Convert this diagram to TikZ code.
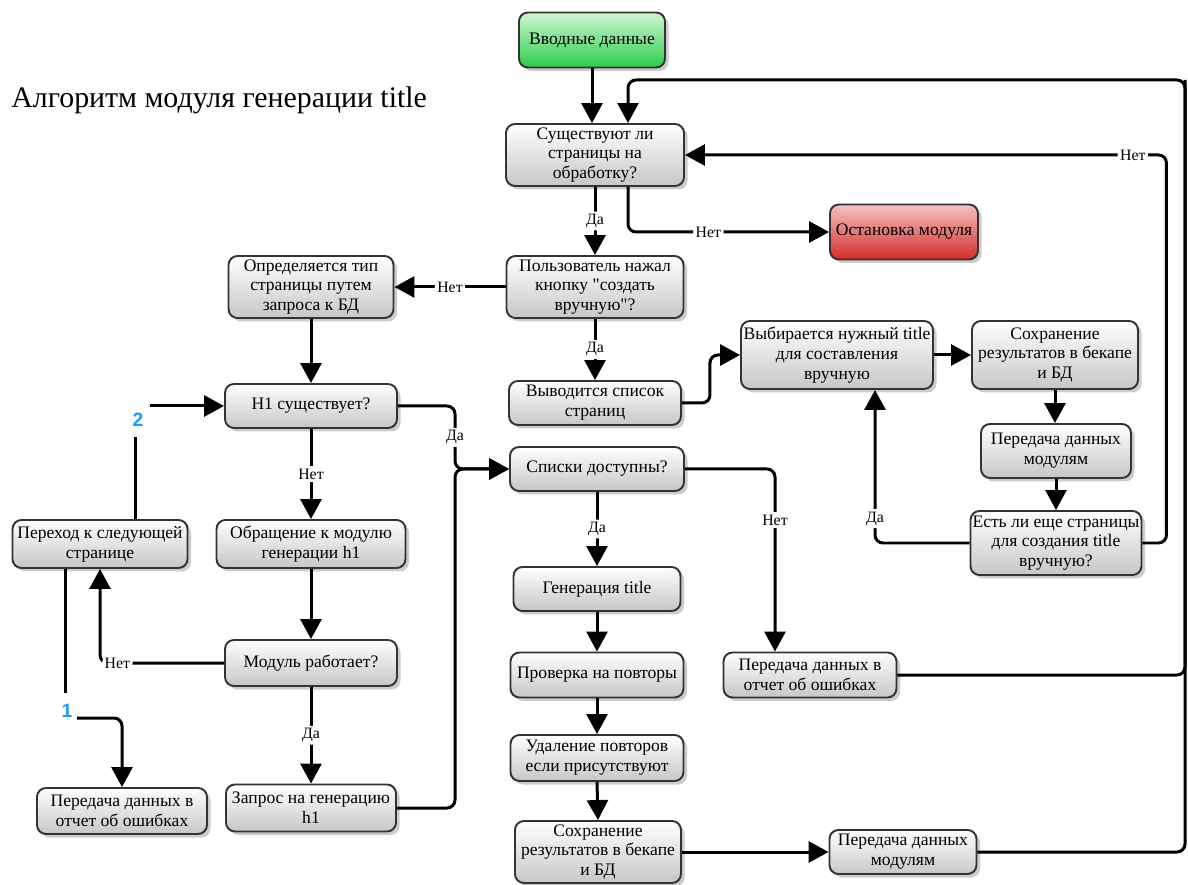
\documentclass[tikz,border=0pt]{standalone}
\usepackage{fontspec}
\setmainfont{Liberation Serif}
\newfontfamily\lblsans{Liberation Sans}
\usetikzlibrary{arrows.meta,shadows}
\definecolor{gtop}{HTML}{CFF7D2}
\definecolor{gbot}{HTML}{2DCB4E}
\definecolor{rtop}{HTML}{F4C2C2}
\definecolor{rbot}{HTML}{D42B2B}
\definecolor{numblue}{HTML}{1E9BFF}
\begin{document}
\begin{tikzpicture}[x=0.02cm,y=-0.02cm,
  sz/.style 2 args={minimum width=#1*0.02cm, minimum height=#2*0.02cm},
  nd/.style={rectangle, rounded corners=0.18cm, draw=black!80, line width=1.1pt,
    top color=white, bottom color=black!22,
    drop shadow={opacity=0.4, shadow xshift=0.07cm, shadow yshift=-0.07cm},
    align=center, inner sep=1pt, font=\fontsize{10}{11.3}\selectfont},
  gnd/.style={nd, top color=gtop, bottom color=gbot},
  rnd/.style={nd, top color=rtop, bottom color=rbot},
  ln/.style={line width=0.06cm, rounded corners=0.16cm},
  arr/.style={ln, -{Triangle[length=0.4cm,width=0.42cm]}},
  lbl/.style={fill=white, inner sep=1.5pt, font=\fontsize{9}{10}\selectfont},
  numlbl/.style={fill=white, inner sep=1pt, text=numblue, font=\lblsans\bfseries\fontsize{11}{12}\selectfont},
  ttl/.style={anchor=west, inner sep=0pt, font=\fontsize{17}{20}\selectfont}]
\fill[white] (0,0) rectangle (1188,885);
\useasboundingbox (0,0) rectangle (1188,885);

\node[ttl] (title) at (11,100) {Алгоритм модуля генерации title};

\node[gnd, sz={146}{55}] (vvod) at (592,40) {Вводные данные};
\node[nd, sz={178}{62}] (sush) at (595,155) {Существуют ли\\страницы на\\обработку?};
\node[rnd, sz={148}{55}] (ost) at (904,232) {Остановка модуля};
\node[nd, sz={177}{62}] (polz) at (595,287) {Пользователь нажал\\кнопку \textquotedbl создать\\вручную\textquotedbl ?};
\node[nd, sz={165}{62}] (opr) at (311,287) {Определяется тип\\страницы путем\\запроса к БД};
\node[nd, sz={172}{44}] (vyv) at (595,403) {Выводится список\\страниц};
\node[nd, sz={192}{68}] (vybir) at (837,355) {Выбирается нужный title\\для составления\\вручную};
\node[nd, sz={166}{68}] (sohrA) at (1055,355) {Сохранение\\результатов в бекапе\\и БД};
\node[nd, sz={150}{54}] (pdmA) at (1056,451) {Передача данных\\модулям};
\node[nd, sz={171}{64}] (est) at (1056,543) {Есть ли еще страницы\\для создания title\\вручную?};
\node[nd, sz={172}{44}] (hone) at (311,406) {H1 существует?};
\node[nd, sz={174}{44}] (spiski) at (597,469) {Списки доступны?};
\node[nd, sz={175}{48}] (pereh) at (100,544) {Переход к следующей\\странице};
\node[nd, sz={189}{48}] (obr) at (311,544) {Обращение к модулю\\генерации h1};
\node[nd, sz={167}{44}] (gen) at (597,589) {Генерация title};
\node[nd, sz={173}{45}] (pdoB) at (810,675) {Передача данных в\\отчет об ошибках};
\node[nd, sz={172}{46}] (modul) at (311,663) {Модуль работает?};
\node[nd, sz={173}{45}] (prov) at (597,675) {Проверка на повторы};
\node[nd, sz={173}{46}] (udal) at (597,758) {Удаление повторов\\если присутствуют};
\node[nd, sz={170}{46}] (pdoA) at (122,811) {Передача данных в\\отчет об ошибках};
\node[nd, sz={170}{47}] (zapr) at (311,808) {Запрос на генерацию\\h1};
\node[nd, sz={166}{62}] (sohrB) at (598,852) {Сохранение\\результатов в бекапе\\и БД};
\node[nd, sz={147}{44}] (pdmB) at (903,852) {Передача данных\\модулям};

\coordinate (rtop) at (1185,80);
\coordinate (jn) at (455,469);
\coordinate (ctwoa) at (135,437);
\coordinate (ctwob) at (150,406);
\coordinate (conea) at (65,693);
\coordinate (coneb) at (77,718);

\draw[arr] (vvod.south) -- (vvod.south |- sush.north);
\draw[arr] (sush.south) -- node[lbl]{Да} (polz.north);
\draw[arr] ([xshift=33*0.02cm]sush.south) |- node[lbl,pos=0.7]{Нет} (ost.west);
\draw[arr] (polz.west) -- node[lbl]{Нет} (opr.east);
\draw[arr] (polz.south) -- node[lbl]{Да} (vyv.north);
\draw[arr] (vyv.east) -- ++(28,0) |- (vybir.west);
\draw[arr] (vybir.east) -- (sohrA.west);
\draw[arr] (sohrA.south) -- (sohrA.south |- pdmA.north);
\draw[arr] (pdmA.south) -- (pdmA.south |- est.north);
\draw[arr] (est.west) -| node[lbl,pos=0.58]{Да} ([xshift=38*0.02cm]vybir.south);
\draw[arr] (est.east) -- ++(24,0) |- node[lbl,pos=0.535]{Нет} (sush.east);
\draw[arr] (pdmB.east) -| (rtop) -| ([xshift=33*0.02cm]sush.north);
\draw[ln] (pdoB.east) -| (rtop);

\draw[arr] (opr.south) -- (hone.north);
\draw[arr] (hone.east) -| node[lbl,pos=0.75]{Да} (jn) -- (spiski.west);
\draw[arr] (zapr.east) -| (jn) -- (spiski.west);
\draw[arr] (hone.south) -- node[lbl]{Нет} (obr.north);
\draw[arr] (obr.south) -- (modul.north);
\draw[arr] (modul.west) -| node[lbl,pos=0.43]{Нет} (pereh.south);
\draw[arr] (modul.south) -- node[lbl]{Да} (zapr.north);
\draw[ln] ([xshift=35*0.02cm]pereh.north) -- (ctwoa);
\draw[arr] (ctwob) -- (hone.west);
\draw[ln] ([xshift=-35*0.02cm]pereh.south) -- (conea);
\draw[arr] (coneb) -| (pdoA.north);
\node[numlbl] (ntwo) at (138,420) {2};
\node[numlbl] (none) at (67,711) {1};

\draw[arr] (spiski.south) -- node[lbl]{Да} (gen.north);
\draw[arr] (spiski.east) -| node[lbl,pos=0.64]{Нет} ([xshift=-35*0.02cm]pdoB.north);
\draw[arr] (gen.south) -- (prov.north);
\draw[arr] (prov.south) -- (udal.north);
\draw[arr] (udal.south) -- (sohrB.north);
\draw[arr] (sohrB.east) -- (pdmB.west);
\end{tikzpicture}
\end{document}
